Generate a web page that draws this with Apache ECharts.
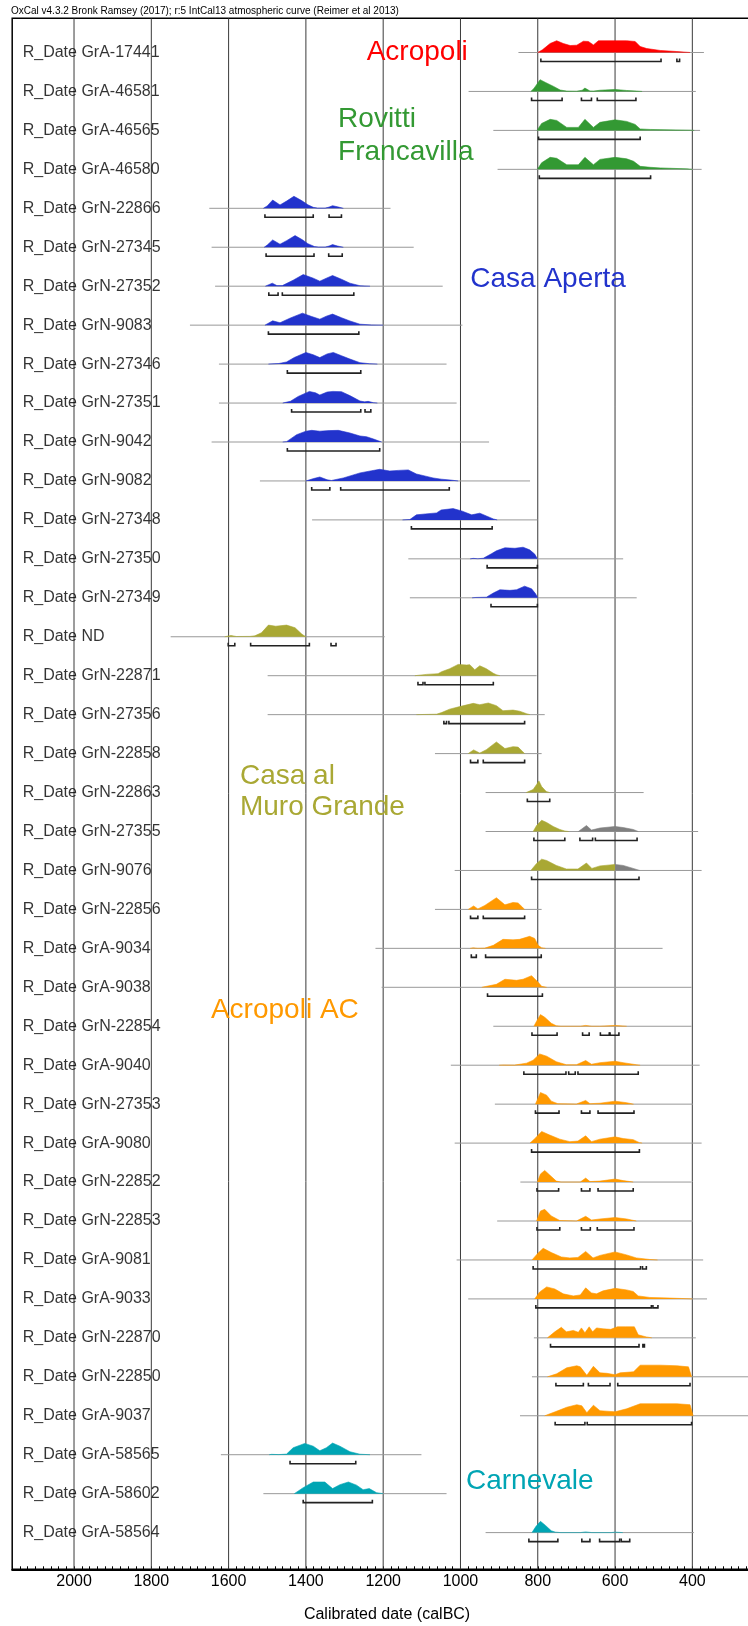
<!DOCTYPE html>
<html>
<head>
<meta charset="utf-8">
<title>OxCal multiplot</title>
<script src="https://cdn.jsdelivr.net/npm/echarts@6/dist/echarts.min.js"></script>
<style>
  html, body { margin: 0; padding: 0; background: #fff; }
  #chart { width: 748px; height: 1626px; }
</style>
</head>
<body>
<div id="chart"></div>
<script>
// ---- data ----
const rowNames = [
  'R_Date GrA-17441', 'R_Date GrA-46581', 'R_Date GrA-46565', 'R_Date GrA-46580',
  'R_Date GrN-22866', 'R_Date GrN-27345', 'R_Date GrN-27352', 'R_Date GrN-9083',
  'R_Date GrN-27346', 'R_Date GrN-27351', 'R_Date GrN-9042', 'R_Date GrN-9082',
  'R_Date GrN-27348', 'R_Date GrN-27350', 'R_Date GrN-27349', 'R_Date ND',
  'R_Date GrN-22871', 'R_Date GrN-27356', 'R_Date GrN-22858', 'R_Date GrN-22863',
  'R_Date GrN-27355', 'R_Date GrN-9076', 'R_Date GrN-22856', 'R_Date GrA-9034',
  'R_Date GrA-9038', 'R_Date GrN-22854', 'R_Date GrA-9040', 'R_Date GrN-27353',
  'R_Date GrA-9080', 'R_Date GrN-22852', 'R_Date GrN-22853', 'R_Date GrA-9081',
  'R_Date GrA-9033', 'R_Date GrN-22870', 'R_Date GrN-22850', 'R_Date GrA-9037',
  'R_Date GrA-58565', 'R_Date GrA-58602', 'R_Date GrA-58564'
];

// site group of each row (index into groupNames)
const rowGroup = [0, 1, 1, 1, 2, 2, 2, 2, 2, 2, 2, 2, 2, 2, 2, 3, 3, 3, 3, 3, 3, 3,
  4, 4, 4, 4, 4, 4, 4, 4, 4, 4, 4, 4, 4, 4, 5, 5, 5];

const groupNames = ['Acropoli', 'Rovitti\nFrancavilla', 'Casa Aperta',
  'Casa al\nMuro Grande', 'Acropoli AC', 'Carnevale'];

// calibrated probability, [year calBC, relative density %]
const density = [
  [[800,0],[797,4],[788,22],[768,75],[751,98],[734,75],[716,58],[699,61],[682,94],[669,92],[656,63],[643,98],[600,98],[570,98],[548,92],[535,50],[518,33],[483,17],[440,8],[406,0]],
  [[818,0],[810,25],[794,98],[780,75],[759,42],[742,12],[725,3],[700,2],[685,10],[678,28],[665,4],[655,3],[639,10],[600,17],[570,8],[544,3],[530,0]],
  [[802,0],[790,58],[768,92],[751,83],[725,25],[695,25],[678,92],[656,25],[639,67],[600,88],[570,75],[548,50],[535,12],[509,8],[406,2],[395,0]],
  [[801,0],[790,55],[768,100],[751,92],[725,38],[695,38],[678,100],[656,38],[639,83],[600,100],[570,88],[552,67],[535,25],[509,17],[483,12],[414,4],[400,0]],
  [[1510,0],[1500,20],[1486,69],[1467,28],[1450,60],[1431,100],[1411,64],[1395,30],[1381,8],[1370,2],[1350,2],[1340,10],[1331,22],[1318,12],[1303,0]],
  [[1508,0],[1500,18],[1486,61],[1467,25],[1450,55],[1428,97],[1409,62],[1395,30],[1378,6],[1368,2],[1350,2],[1340,10],[1331,22],[1318,10],[1303,0]],
  [[1505,0],[1487,25],[1475,5],[1461,5],[1433,50],[1407,97],[1381,67],[1364,42],[1347,67],[1331,89],[1308,58],[1286,25],[1260,4],[1234,0]],
  [[1506,0],[1486,36],[1467,20],[1440,60],[1409,100],[1385,72],[1364,50],[1347,75],[1331,92],[1308,62],[1286,35],[1260,8],[1230,2],[1200,0]],
  [[1497,0],[1470,5],[1450,18],[1430,55],[1400,97],[1381,78],[1364,54],[1345,85],[1329,97],[1308,70],[1286,42],[1260,12],[1235,3],[1215,0]],
  [[1460,0],[1440,15],[1420,55],[1391,97],[1375,85],[1364,67],[1345,92],[1330,97],[1308,95],[1285,60],[1260,17],[1248,10],[1239,14],[1225,3],[1215,0]],
  [[1460,0],[1450,3],[1424,61],[1400,90],[1385,97],[1364,90],[1340,95],[1316,97],[1286,75],[1260,50],[1243,44],[1225,25],[1204,0]],
  [[1400,0],[1380,20],[1364,33],[1345,10],[1334,4],[1303,25],[1260,67],[1230,85],[1209,97],[1183,83],[1161,88],[1135,92],[1114,58],[1090,40],[1071,25],[1050,15],[1027,8],[1006,0]],
  [[1150,0],[1131,3],[1114,42],[1090,50],[1062,58],[1050,83],[1019,94],[997,75],[971,42],[950,56],[933,33],[915,8],[905,0]],
  [[975,0],[967,4],[955,1],[941,5],[920,42],[907,67],[885,92],[859,88],[838,97],[821,75],[808,40],[801,0]],
  [[970,0],[960,3],[933,5],[915,40],[898,67],[872,62],[855,67],[834,97],[816,75],[806,35],[800,0]],
  [[1610,0],[1594,11],[1580,2],[1545,3],[1532,8],[1515,33],[1497,97],[1478,88],[1450,97],[1428,75],[1410,20],[1400,0]],
  [[1118,0],[1088,11],[1058,17],[1049,33],[1028,58],[1006,94],[984,89],[976,92],[963,50],[950,83],[933,58],[915,20],[907,8],[898,0]],
  [[1114,0],[1062,4],[1049,17],[1028,46],[1002,67],[967,94],[950,83],[928,97],[907,75],[890,33],[864,38],[847,29],[829,8],[820,0]],
  [[980,0],[966,31],[950,4],[933,33],[907,97],[885,42],[864,58],[851,54],[840,20],[834,0]],
  [[830,0],[812,25],[803,67],[797,97],[790,50],[778,8],[769,0]],
  [[812,0],[803,50],[790,94],[777,75],[760,42],[743,17],[730,4],[720,0]],
  [[818,0],[803,58],[790,94],[777,83],[752,42],[726,12],[696,12],[674,62],[660,17],[639,38],[600,50]],
  [[980,0],[966,29],[955,4],[937,33],[907,97],[885,38],[864,58],[851,54],[840,20],[834,0]],
  [[975,0],[967,4],[955,0],[937,2],[915,25],[890,75],[864,71],[847,75],[821,100],[808,83],[799,25],[790,4],[780,0]],
  [[945,0],[907,25],[885,67],[855,58],[838,67],[816,97],[799,42],[790,8],[777,0]],
  [[810,0],[803,42],[793,97],[782,75],[765,25],[752,4],[740,0],[690,0],[676,7],[660,0],[640,0],[600,7],[570,0]],
  [[900,0],[890,2],[860,1],[829,17],[812,42],[795,94],[777,75],[752,29],[726,4],[700,4],[676,39],[661,8],[639,21],[600,33],[579,21],[545,4],[535,0]],
  [[806,0],[793,97],[777,75],[765,25],[748,4],[700,1],[676,31],[665,4],[639,8],[600,25],[570,12],[552,0]],
  [[820,0],[806,42],[790,97],[769,67],[743,33],[717,12],[696,17],[676,61],[661,12],[639,33],[600,52],[579,38],[553,29],[537,4],[530,0]],
  [[801,0],[793,67],[782,97],[769,58],[752,8],[740,0],[690,0],[676,33],[665,4],[639,8],[600,25],[579,12],[553,0]],
  [[803,0],[793,83],[782,97],[765,42],[743,4],[700,0],[676,39],[661,8],[639,17],[600,29],[570,17],[545,0]],
  [[815,0],[799,58],[786,97],[765,62],[739,25],[717,17],[696,21],[676,71],[657,17],[639,38],[600,67],[570,42],[545,17],[510,4],[490,0]],
  [[808,0],[795,58],[777,100],[756,83],[734,42],[708,25],[690,33],[676,92],[661,50],[648,42],[631,67],[600,88],[570,75],[553,62],[540,25],[510,12],[458,7],[415,2],[400,0]],
  [[775,0],[756,50],[739,88],[726,50],[708,62],[695,46],[687,83],[678,42],[667,92],[658,50],[648,83],[631,75],[611,71],[594,92],[572,92],[550,92],[540,25],[519,8],[505,0]],
  [[775,0],[751,25],[725,75],[699,92],[690,83],[673,12],[656,88],[639,33],[621,29],[600,17],[587,33],[552,42],[535,97],[483,97],[440,92],[410,83],[402,0]],
  [[782,0],[755,33],[725,71],[699,92],[686,83],[673,25],[656,88],[639,42],[621,38],[600,33],[570,58],[535,100],[483,100],[440,100],[406,92],[398,0]],
  [[1495,0],[1489,3],[1470,1],[1450,5],[1433,58],[1403,94],[1381,71],[1364,33],[1347,58],[1331,97],[1312,71],[1286,25],[1260,4],[1234,0]],
  [[1430,0],[1407,50],[1381,97],[1351,97],[1331,42],[1312,75],[1290,97],[1269,71],[1252,33],[1236,42],[1217,8],[1200,0]],
  [[815,0],[805,50],[793,94],[780,60],[765,15],[754,4],[740,0],[690,0],[676,6],[660,0],[610,0],[600,4],[580,0]]
];

// part of the distribution drawn in grey (rows 20, 21)
const greyRows = [20, 21];
const greyDensity = [
  [[695,0],[691,8],[674,50],[661,12],[639,29],[600,42],[579,33],[553,17],[540,0]],
  [[600,50],[579,42],[553,17],[536,0]]
];

// extent of the thin grey line under each distribution [from, to] calBC
const plotRanges = [
  [850,370],[979,391],[915,380],[904,376],[1650,1181],[1644,1121],[1635,1046],[1700,995],
  [1625,1036],[1625,1010],[1644,926],[1519,820],[1384,801],[1135,579],[1131,544],[1750,1196],
  [1499,803],[1499,782],[1066,790],[935,526],[935,385],[1015,376],[1066,790],[1220,477],
  [1204,402],[915,402],[1025,381],[911,398],[1015,376],[845,402],[905,398],[1010,372],
  [980,362],[810,391],[815,220],[846,220],[1620,1101],[1510,1036],[935,396]
];

// 95.4% ranges [from, to] calBC
const ranges95 = [
  [[792,481],[440,433]],
  [[816,737],[687,661],[646,546]],
  [[798,535]],
  [[796,508]],
  [[1506,1381],[1340,1308]],
  [[1503,1379],[1341,1306]],
  [[1496,1472],[1461,1276]],
  [[1497,1263]],
  [[1448,1258]],
  [[1437,1258],[1247,1232]],
  [[1448,1209]],
  [[1385,1338],[1310,1029]],
  [[1127,918]],
  [[931,801]],
  [[921,801]],
  [[1601,1584],[1543,1391],[1335,1322]],
  [[1110,1097],[1092,915]],
  [[1043,1036],[1030,834]],
  [[974,955],[941,834]],
  [[827,769]],
  [[810,730],[691,658],[651,543]],
  [[816,538]],
  [[974,955],[941,834]],
  [[972,959],[935,791]],
  [[930,788]],
  [[815,750],[684,667],[638,615],[613,590]],
  [[836,727],[720,703],[696,540]],
  [[806,745],[687,665],[644,551]],
  [[816,537]],
  [[802,746],[687,665],[644,553]],
  [[802,743],[687,664],[646,551]],
  [[812,534],[529,519]],
  [[805,506],[502,489]],
  [[767,538],[528,524]],
  [[753,682],[669,613],[593,406]],
  [[755,678],[672,402]],
  [[1441,1271]],
  [[1407,1228]],
  [[823,748],[686,665],[640,588],[584,562]]
];

const gridYears = [2000, 1800, 1600, 1400, 1200, 1000, 800, 600, 400];

// ---- layout / style ----
const groupColors = ['#ff0000', '#339933', '#2233cc', '#a9a834', '#ff9900', '#00a5b4'];
const greyColor = '#808080';
// label anchors [year, row] for the site names
const groupLabelAt = [[1244, 0], [1318, 2.14], [976, 5.83], [1572, 18.99], [1647, 24.59], [987, 36.68]];
const groupLineHeight = [30, 33, 30, 31, 30, 30];

const ROW_PX = 38.94;   // vertical distance between rows
const PEAK_PX = 12;     // height of a 100% density
const K = PEAK_PX / ROW_PX / 100;
const FONT = 'Liberation Sans, Arial, Helvetica, sans-serif';

const chart = echarts.init(document.getElementById('chart'));

const distSeries = density.map((pts, i) => ({
  type: 'line',
  silent: true,
  z: 3,
  symbol: 'none',
  data: pts.map(p => [p[0], i - p[1] * K]),
  lineStyle: { width: 0.6, color: groupColors[rowGroup[i]] },
  areaStyle: { color: groupColors[rowGroup[i]], opacity: 1, origin: i }
}));

const greySeries = greyDensity.map((pts, j) => ({
  type: 'line',
  silent: true,
  z: 3,
  symbol: 'none',
  data: pts.map(p => [p[0], greyRows[j] - p[1] * K]),
  lineStyle: { width: 0.6, color: greyColor },
  areaStyle: { color: greyColor, opacity: 1, origin: greyRows[j] }
}));

const bracketData = [];
ranges95.forEach((rs, i) => rs.forEach(r => bracketData.push([r[0], r[1], i])));

chart.setOption({
  animation: false,
  textStyle: { fontFamily: FONT },
  title: {
    text: 'OxCal v4.3.2 Bronk Ramsey (2017); r:5 IntCal13 atmospheric curve (Reimer et al 2013)',
    left: 11,
    top: 6,
    padding: 0,
    textStyle: { fontSize: 10, fontWeight: 'normal', color: '#000', fontFamily: FONT }
  },
  grid: {
    left: 12.2,
    top: 18.3,
    width: 749.7,
    height: 1551,
    outerBoundsMode: 'none',
    containLabel: false,
    show: true,
    borderColor: '#000',
    borderWidth: 1.5
  },
  xAxis: {
    type: 'value',
    inverse: true,
    min: 220,
    max: 2160,
    interval: 20,
    axisLine: { show: true, onZero: false, lineStyle: { color: '#000', width: 2 } },
    axisTick: { show: true, inside: true, length: 3, lineStyle: { color: '#000', width: 1 } },
    axisLabel: {
      formatter: v => (gridYears.includes(v) ? String(v) : ''),
      fontSize: 16,
      color: '#000',
      margin: 4,
      hideOverlap: false
    },
    splitLine: { show: false },
    name: 'Calibrated date (calBC)',
    nameLocation: 'middle',
    nameGap: 37,
    nameTextStyle: { fontSize: 16, color: '#000' }
  },
  yAxis: {
    type: 'value',
    inverse: true,
    min: -0.878,
    max: 38.942,
    show: false
  },
  series: [
    {
      // major grid lines
      type: 'custom',
      silent: true,
      z: 1,
      data: gridYears.map(v => [v, 0]),
      encode: { x: 0, y: 1 },
      renderItem: (params, api) => {
        const x = api.coord([api.value(0), 0])[0];
        const cs = params.coordSys;
        return {
          type: 'line',
          shape: { x1: x, y1: cs.y, x2: x, y2: cs.y + cs.height },
          style: { stroke: '#3a3a3a', lineWidth: 1 }
        };
      }
    },
    {
      // thin grey extent lines
      type: 'custom',
      silent: true,
      z: 2,
      data: plotRanges.map((r, i) => [r[0], r[1], i]),
      encode: { x: [0, 1], y: 2 },
      renderItem: (params, api) => {
        const a = api.coord([api.value(0), api.value(2)]);
        const b = api.coord([api.value(1), api.value(2)]);
        return {
          type: 'line',
          shape: { x1: a[0], y1: a[1], x2: b[0], y2: b[1] },
          style: { stroke: '#999', lineWidth: 1 }
        };
      }
    },
    ...distSeries,
    ...greySeries,
    {
      // 95.4% range brackets
      type: 'custom',
      silent: true,
      z: 4,
      data: bracketData,
      encode: { x: [0, 1], y: 2 },
      renderItem: (params, api) => {
        const a = api.coord([api.value(0), api.value(2)]);
        const b = api.coord([api.value(1), api.value(2)]);
        const y = a[1] + 9;
        return {
          type: 'polyline',
          shape: { points: [[a[0], y - 3], [a[0], y], [b[0], y], [b[0], y - 3]] },
          style: { stroke: '#222', lineWidth: 1.6, fill: null }
        };
      }
    },
    {
      // row labels
      type: 'scatter',
      silent: true,
      clip: false,
      z: 5,
      symbol: 'circle',
      symbolSize: 1,
      itemStyle: { color: 'rgba(0,0,0,0)' },
      data: rowNames.map((n, i) => [2160, i]),
      label: {
        show: true,
        position: 'right',
        distance: 10,
        formatter: p => rowNames[p.dataIndex],
        fontSize: 16,
        color: '#000',
        fontFamily: FONT
      }
    },
    {
      // site names
      type: 'scatter',
      silent: true,
      clip: false,
      z: 5,
      symbol: 'circle',
      symbolSize: 1,
      itemStyle: { color: 'rgba(0,0,0,0)' },
      data: groupNames.map((n, g) => ({
        value: groupLabelAt[g],
        label: { color: groupColors[g], lineHeight: groupLineHeight[g] }
      })),
      label: {
        show: true,
        position: 'right',
        distance: 0,
        opacity: 1,
        formatter: p => groupNames[p.dataIndex],
        fontSize: 28,
        fontFamily: FONT
      }
    }
  ]
});
</script>
</body>
</html>
